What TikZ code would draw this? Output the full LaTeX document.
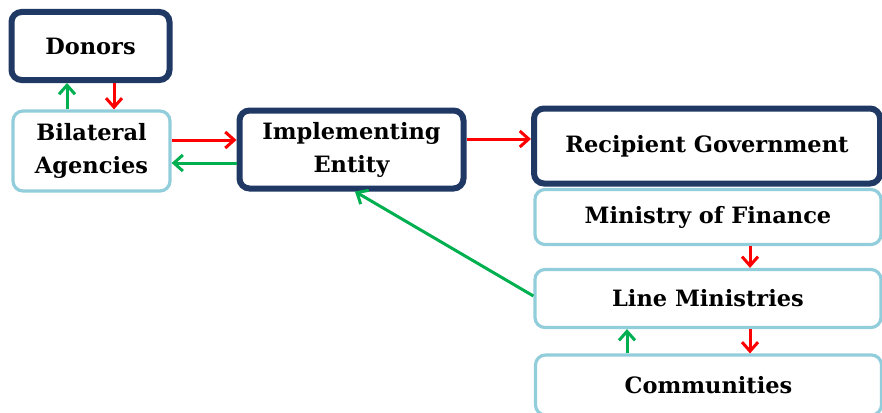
\documentclass[tikz,border=0pt]{standalone}
\usepackage{fontspec}
\setmainfont{DejaVu Serif}
\usetikzlibrary{arrows.meta}
\definecolor{navy}{HTML}{1F3864}
\definecolor{paleblue}{HTML}{92CDDC}
\definecolor{flowred}{HTML}{FF0000}
\definecolor{flowgreen}{HTML}{00B050}
\tikzset{
  box/.style={rounded corners=10pt, fill=white, align=center, inner sep=0pt,
    font=\fontsize{22.5}{33}\selectfont\bfseries},
  mainbox/.style={box, draw=navy, line width=6pt},
  subbox/.style={box, draw=paleblue, line width=3.2pt},
  flow/.style={line width=3pt, -{Straight Barb[length=9pt,width=16pt,line width=3pt]}},
  fund/.style={flow, draw=flowred},
  report/.style={flow, draw=flowgreen},
}
\begin{document}
\begin{tikzpicture}[x=1pt,y=-1pt]
\useasboundingbox (0,0) rectangle (882,412);
% organisations
\node[mainbox, minimum width=158pt, minimum height=68pt] (donors) at (90.5,46) {Donors};
\node[subbox, minimum width=157pt, minimum height=80pt] (bilat) at (91.5,151) {Bilateral\\Agencies};
\node[mainbox, minimum width=224pt, minimum height=78pt] (impl) at (351.5,149.5) {Implementing\\Entity};
\node[mainbox, minimum width=346pt, minimum height=75pt] (recip) at (707,146) {Recipient Government};
\node[subbox, minimum width=346pt, minimum height=55pt] (mof) at (708,217) {Ministry of Finance};
\node[subbox, minimum width=346pt, minimum height=58pt] (line) at (708,298.5) {Line Ministries};
\node[subbox, minimum width=346pt, minimum height=60pt] (comm) at (708.5,385) {Communities};
% flows of funds
\draw[fund] (donors.south -| 114,0) -- (bilat.north -| 114,0);
\draw[fund] (bilat.east |- 0,140) -- (impl.west |- 0,140);
\draw[fund] (impl.east |- 0,139) -- (recip.west |- 0,139);
\draw[fund] (mof.south -| 750,0) -- (line.north -| 750,0);
\draw[fund] (line.south -| 750,0) -- (comm.north -| 750,0);
% flows of reporting
\draw[report] (bilat.north -| 67,0) -- (donors.south -| 67,0);
\draw[report] (impl.west |- 0,163) -- (bilat.east |- 0,163);
\draw[report] (comm.north -| 627,0) -- (line.south -| 627,0);
\draw[report] (line.west |- 0,296) -- (impl.south -| 355,0);
\end{tikzpicture}
\end{document}
